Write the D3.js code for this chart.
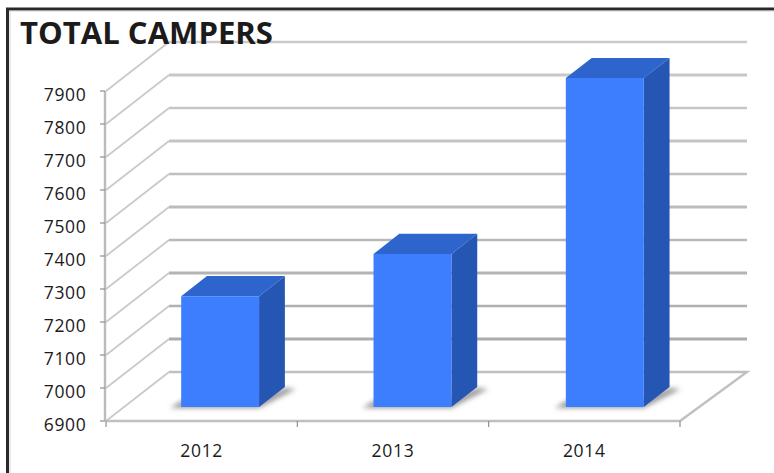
<!DOCTYPE html>
<html><head><meta charset="utf-8">
<script src="https://cdn.jsdelivr.net/npm/d3@7"></script>
<style>html,body{margin:0;padding:0;background:#fff}svg{display:block}text{font-family:"Open Sans";fill:#1c1a1b}</style>
</head><body><script>
const categories=["2012","2013","2014"];
const campers=[7236,7364,7897];
const tickValues=[6900,7000,7100,7200,7300,7400,7500,7600,7700,7800,7900];
const titleText="TOTAL CAMPERS";

const W=774,H=473;
const svg=d3.select("body").append("svg").attr("width",W).attr("height",H);
const defs=svg.append("defs");
[["soft",0.55],["bar",0.4],["shadow",2.4]].forEach(([id,s])=>defs.append("filter").attr("id",id)
  .attr("x","-30%").attr("y","-30%").attr("width","160%").attr("height","160%")
  .append("feGaussianBlur").attr("stdDeviation",s));

const y=d3.scaleLinear().domain([6900,7900]).range([421,91]);
const x=d3.scaleBand().domain(categories).range([106,680]);
const barBand=d3.scaleBand().domain(categories).range([106,683]);
const depthX=d3.scaleLinear().domain([0,1]).range([0,63]);
const depthY=d3.scaleLinear().domain([0,1]).range([0,-49]);
const P=(px,py,d)=>[px+depthX(d),py+depthY(d)];
const line=d3.line();
const floor=y.domain()[0], left=x.range()[0], right=x.range()[1];
const backRight=P(right,0,1)[0]+4;

// frame
svg.append("path").attr("d",line([[7.5,473],[7.5,9],[774,9]])).attr("fill","none").attr("stroke","#2b2929").attr("stroke-width",3);
svg.append("path").attr("d",line([[10,473],[10,11],[774,11]])).attr("fill","none").attr("stroke","#bbb").attr("stroke-width",1).attr("opacity",.6);

// walls and gridlines
const grey=d3.scaleLinear().domain([6900,7300,7600,7900]).range(["#a8a8a8","#b8b8b8","#c4c4c4","#cacaca"]);
const grid=svg.append("g").attr("fill","none").attr("filter","url(#soft)");
tickValues.forEach(v=>{
  grid.append("path").attr("d",line([P(left,y(v),0),P(left,y(v),1)])).attr("stroke","#cacaca").attr("stroke-width",1.8);
  if(v>floor) grid.append("path").attr("d",line([P(left,y(v),1),[backRight,P(left,y(v),1)[1]]])).attr("stroke",grey(v)).attr("stroke-width",v%200===0?3:2.4);
});
// floor
grid.append("path").attr("d",line([P(left,y(floor),1),[backRight,P(left,y(floor),1)[1]],P(right,y(floor),0),P(left,y(floor),0)])).attr("stroke","#c0c0c0").attr("stroke-width",2.4);
grid.append("path").attr("d",line([[left-1,y(7900)],[left-1,y(floor)]])).attr("stroke","#bbb").attr("stroke-width",2.4);

// ticks
const ticks=svg.append("g").attr("stroke","#8f8f8f").attr("stroke-width",1.2);
tickValues.forEach(v=>ticks.append("line").attr("x1",left-6).attr("x2",left-1).attr("y1",y(v)).attr("y2",y(v)));
x.domain().concat("end").forEach((c,i)=>{
  const tx=left+i*x.step();
  ticks.append("line").attr("x1",tx).attr("x2",tx).attr("y1",y(floor)).attr("y2",y(floor)+6);
});

// y labels
svg.append("g").selectAll("text").data(tickValues).join("text")
  .attr("x",86.5).attr("y",d=>y(d)+9.5).attr("text-anchor","end").attr("font-size",17.5).attr("letter-spacing",0.7).text(d=>d);
// x labels
svg.append("g").selectAll("text").data(categories).join("text")
  .attr("x",d=>x(d)+x.bandwidth()/2).attr("y",457).attr("text-anchor","middle").attr("font-size",17.5).attr("letter-spacing",0.7).text(d=>d);

// bars
const depthStart=0.285, depthEnd=0.695, barW=barBand.bandwidth()*0.405;
const bars=svg.append("g");
categories.forEach((c,i)=>{
  const x0=barBand(c)+(barBand.bandwidth()-barW)/2, x1=x0+barW, yb=y(floor), yt=y(campers[i]);
  const a=P(x0,yb,depthStart), b=P(x1,yb,depthStart), e=P(x1,yb,depthEnd);
  const g=bars.append("g");
  g.append("path").attr("filter","url(#shadow)").attr("fill","#9a9a9a")
    .attr("d",line([[a[0]-11,a[1]+1],[b[0],b[1]+1],[e[0]+11,e[1]+2],[e[0],e[1]+1],[b[0],a[1]-8],[a[0],a[1]-6]])+"Z");
  const ft=P(x0,yt,depthStart), ftr=P(x1,yt,depthStart), bt=P(x1,yt,depthEnd), btl=P(x0,yt,depthEnd);
  const body=g.append("g").attr("filter","url(#bar)");
  body.append("path").attr("fill","#2d65cc").attr("d",line([ft,ftr,bt,btl])+"Z");
  body.append("path").attr("fill","#2857b3").attr("d",line([ftr,b,e,bt])+"Z");
  body.append("path").attr("fill","#3d7eff").attr("d",line([ft,ftr,b,a])+"Z");
});

// title
svg.append("text").attr("x",20).attr("y",44).attr("font-size",30.5).attr("font-weight",700).attr("textLength",253).attr("lengthAdjust","spacingAndGlyphs").text(titleText);
</script></body></html>
